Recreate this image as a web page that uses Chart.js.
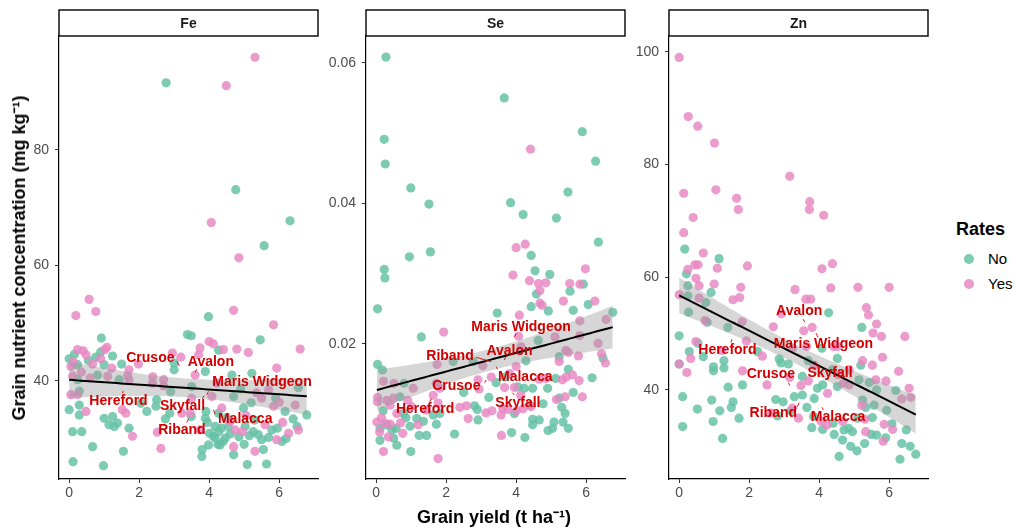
<!DOCTYPE html>
<html>
<head>
<meta charset="utf-8">
<script src="https://cdn.jsdelivr.net/npm/chart.js@4.4.1/dist/chart.umd.min.js"></script>
<style>
    body { margin: 0; background: #fff; font-family: "Liberation Sans", Arial, sans-serif; }
    #wrap { position: relative; width: 1016px; height: 531px; overflow: hidden; background: #fff; }
    #wrap canvas { position: absolute; top: 0; }
    .ytitle { position: absolute; left: 18px; top: 258px; transform: translate(-50%, -50%) rotate(-90deg);
        white-space: nowrap; font-weight: bold; font-size: 18px; color: #000; }
    .xtitle { position: absolute; left: 494px; top: 516px; transform: translate(-50%, -50%);
        white-space: nowrap; font-weight: bold; font-size: 18px; color: #000; }
    .leg-title { position: absolute; left: 956px; top: 219px; font-weight: bold; font-size: 18px; }
    .leg-item { position: absolute; left: 964px; font-size: 15px; height: 20px; line-height: 20px; }
    .leg-item i { display: inline-block; width: 10px; height: 10px; border-radius: 50%; vertical-align: middle;
        margin-right: 14px; position: relative; top: -1px; }
</style>
</head>
<body>
<div id="wrap">
    <canvas id="fe" width="330" height="500" style="left:0px"></canvas>
    <canvas id="se" width="330" height="500" style="left:307px"></canvas>
    <canvas id="zn" width="330" height="500" style="left:610px"></canvas>
    <div class="ytitle">Grain nutrient concentration (mg kg⁻¹)</div>
    <div class="xtitle">Grain yield (t ha⁻¹)</div>
    <div class="leg-title">Rates</div>
    <div class="leg-item" style="top:249px"><i style="background:rgba(102,194,165,0.85)"></i>No</div>
    <div class="leg-item" style="top:274px"><i style="background:rgba(231,138,195,0.85)"></i>Yes</div>
</div>
<script>
// --- DATA ---
const panelNames = ['Fe', 'Se', 'Zn'];
const xTicks = [0, 2, 4, 6];
const feTicks = [40, 60, 80];
const seTicks = [0.02, 0.04, 0.06];
const seTickLabels = ['0.02', '0.04', '0.06'];
const znTicks = [40, 60, 80, 100];

const feNo = [[0.92,47.4],[1.24,44.3],[0,43.8],[0.24,42.8],[0.76,44.1],[1.0,42.8],[1.5,42.9],[0.81,41.0],[1.43,40.2],
    [0.24,40.2],[0.29,38.2],[0,35.0],[0.29,35.8],[0.29,34.1],[1.0,33.5],[1.24,33.8],[1.14,32.4],[1.38,32.7],[1.29,32.1],
    [1.71,31.8],[0.1,31.2],[0.36,31.2],[0.67,28.6],[1.55,27.8],[0.11,26.0],[0.98,25.3],[2.22,34.7],[3.0,41.9],[2.48,35.6],
    [2.05,36.1],[3.38,48.0],[3.98,51.1],[3.49,47.8],[5.46,47.1],[4.27,45.3],[3.89,41.6],[4.65,41.0],[5.22,41.3],[3.5,39.0],
    [4.7,37.3],[4.98,35.3],[6.79,34.1],[6.17,34.7],[3.89,33.5],[4.55,32.1],[5.03,32.1],[5.26,31.2],[5.4,30.7],[5.79,31.5],
    [6.08,29.5],[6.51,32.1],[4.17,30.1],[4.31,28.9],[4.7,27.2],[5.55,28.1],[3.79,26.9],[5.09,25.5],[5.64,25.6],[3.98,28.9],
    [4.46,30.1],[4.17,32.1],[2.77,91.6],[4.76,73.1],[6.31,67.7],[5.57,63.4],[2.5,36.7],[2.9,38.1],[3.0,43.1],[2.87,34.4],
    [2.75,33.4],[3.49,33.8],[3.8,28.1],[4.01,30.9],[4.12,30.4],[4.27,31.2],[4.35,31.8],[3.91,34.7],[4.27,34.4],[5.9,37.0],
    [6.55,38.8],[4.9,38.6],[5.2,36.2],[4.4,29.5],[4.6,30.8],[4.85,30.3],[5.0,29.0],[5.15,30.5],[5.5,29.8],[5.7,30.2],
    [5.95,31.8],[6.2,30.0],[4.25,29.0],[3.95,32.8],[4.5,33.6],[5.3,33.2],[6.4,33.4],[0.15,44.6],[0.55,43.5],[0.9,45.0]];
const feYes = [[0.57,54.1],[0.19,51.3],[0.76,52.0],[0.24,45.4],[0.4,45.2],[0.48,44.5],[1.02,45.4],[1.08,45.8],[0.05,42.5],
    [0.67,42.9],[1.22,42.2],[1.71,41.9],[1.98,42.9],[1.1,40.8],[1.67,40.9],[0.1,40.8],[0.05,37.6],[0.24,37.6],[0.48,34.7],
    [1.62,34.4],[1.81,30.4],[2.62,28.3],[2.52,31.1],[2.38,39.6],[2.7,39.1],[2.95,44.8],[3.19,44.1],[1.71,40.2],[1.52,35.0],
    [4.7,52.2],[5.84,49.7],[4.0,46.8],[4.12,46.4],[3.74,45.7],[4.41,45.4],[4.79,45.5],[5.12,44.9],[6.6,45.5],[5.93,42.2],
    [3.7,44.5],[3.6,41.0],[4.22,39.6],[5.36,37.9],[5.5,37.0],[5.84,35.6],[6.46,35.8],[4.36,35.3],[3.46,34.4],[4.74,31.5],
    [5.93,29.8],[6.55,31.5],[6.27,30.9],[4.7,28.6],[5.31,27.8],[4.08,37.3],[5.31,96.0],[4.49,91.1],[4.06,67.4],[4.85,61.3],
    [2.7,40.2],[2.39,40.7],[3.22,34.4],[3.5,37.0],[3.74,31.5],[5.7,38.4],[6.0,36.3],[4.6,33.0],[4.95,31.2],[5.6,32.4],
    [6.1,32.8],[5.05,34.0],[0.12,43.3],[0.35,41.5],[0.6,40.5],[0.9,43.8]];

const seNo = [[0.28,0.0608],[3.66,0.0550],[0.23,0.0491],[5.89,0.0502],[0.26,0.0456],[6.27,0.0460],[0.99,0.0422],[5.48,0.0416],
    [1.51,0.0399],[3.84,0.0401],[4.2,0.0384],[5.15,0.0379],[6.35,0.0345],[0.95,0.0324],[1.55,0.0331],[4.43,0.0326],[0.23,0.0306],
    [0.25,0.0294],[4.54,0.0304],[4.96,0.0299],[5.92,0.0285],[4.58,0.0271],[5.54,0.0275],[0.04,0.0250],[4.43,0.0253],[6.06,0.0256],
    [3.46,0.0244],[4.92,0.0247],[5.63,0.0248],[6.76,0.0245],[1.29,0.0210],[4.63,0.0205],[0.04,0.0171],[0.18,0.0163],[2.2,0.0175],
    [2.77,0.0175],[6.48,0.0180],[5.49,0.0164],[6.17,0.0152],[0.8,0.0144],[0.68,0.0125],[0.78,0.0101],[1.82,0.0101],[1.16,0.0094],
    [0.11,0.0080],[0.57,0.0080],[0.97,0.0083],[0.11,0.0063],[0.59,0.0056],[0.99,0.0047],[1.23,0.0070],[1.44,0.0070],[1.72,0.0086],
    [2.24,0.0072],[2.5,0.0131],[2.81,0.0112],[2.91,0.0092],[2.89,0.0107],[3.22,0.0124],[3.95,0.0101],[3.87,0.0074],[4.25,0.0067],
    [4.38,0.0113],[4.47,0.0093],[4.66,0.0092],[4.47,0.0085],[4.77,0.0115],[4.91,0.0077],[5.08,0.0089],[5.04,0.0080],[5.23,0.0123],
    [5.3,0.0110],[5.4,0.0101],[5.34,0.0089],[5.49,0.0080],[5.63,0.0131],[5.13,0.0151],[4.9,0.0137],[4.05,0.0139],[4.23,0.0137],
    [4.47,0.0137],[3.68,0.0153],[3.43,0.0145],[4.28,0.0176],[5.23,0.0182],[1.63,0.0099],[0.3,0.0085],[0.45,0.0078],
    [0.85,0.0095],[1.35,0.0090],[0.2,0.0105],[0.5,0.0066]];
const seYes = [[4.41,0.0477],[4.0,0.0337],[4.26,0.0342],[5.98,0.0307],[3.91,0.0298],[4.38,0.0290],[4.64,0.0286],[4.85,0.0287],
    [4.68,0.0276],[5.53,0.0286],[5.82,0.0285],[4.68,0.0258],[4.74,0.0255],[5.35,0.0261],[6.25,0.0261],[4.09,0.0241],[6.57,0.0235],
    [5.82,0.0233],[1.93,0.0217],[4.07,0.0211],[5.11,0.0210],[5.82,0.0212],[6.34,0.0201],[1.74,0.0171],[3.05,0.0169],[5.23,0.0175],
    [5.49,0.0188],[5.78,0.0183],[6.44,0.0186],[6.55,0.0173],[5.8,0.0148],[0.21,0.0147],[0.51,0.0144],[1.06,0.0137],[0.04,0.0124],
    [0.04,0.0118],[0.4,0.0113],[0.59,0.0101],[1.01,0.0111],[1.44,0.0106],[0.02,0.0089],[0.26,0.0087],[0.4,0.0086],[0.35,0.0068],
    [0.76,0.0073],[0.21,0.0047],[1.77,0.0037],[2.39,0.0110],[2.58,0.0112],[2.63,0.0094],[2.94,0.0136],[3.14,0.0102],[3.31,0.0105],
    [3.57,0.0099],[3.62,0.0108],[3.76,0.0107],[4.01,0.0105],[4.2,0.0108],[3.58,0.0070],[4.43,0.0111],[5.15,0.0121],[5.4,0.0125],
    [5.89,0.0125],[5.32,0.0149],[5.43,0.0153],[5.61,0.0156],[4.66,0.0150],[4.85,0.0151],[4.13,0.0127],[3.29,0.0153],[2.91,0.0149],
    [3.67,0.0138],[3.95,0.0138],[4.0,0.0168],[3.81,0.0158],[4.14,0.0196],[5.42,0.0191],[1.72,0.0144],[1.82,0.0137],[1.63,0.0127],
    [0.49,0.0123],[1.77,0.0116],[0.15,0.0095],[0.7,0.0088],[1.2,0.0085],[0.3,0.0120],[0.9,0.0120],[0.1,0.0075]];

const znNo = [[0.16,65.0],[1.14,63.3],[0.21,60.6],[0.25,58.5],[0.91,57.3],[0.25,56.7],[0.27,53.8],[0.76,55.5],[4.27,53.7],
    [0.8,52.0],[5.22,51.1],[1.39,51.1],[0,49.6],[0.54,48.3],[4.08,47.4],[2.24,46.8],[0.29,46.8],[0.69,45.9],[1.28,45.2],
    [2.86,45.5],[2.91,44.8],[0,44.6],[5.19,44.4],[4.52,45.6],[3.69,45.2],[0.98,44.1],[0.98,43.4],[1.28,43.9],[1.4,40.5],
    [1.81,40.9],[3.95,40.3],[4.1,40.9],[4.52,40.6],[5.64,40.0],[6.19,39.9],[0.1,38.8],[0.93,38.2],[1.54,37.9],[1.49,36.9],
    [2.76,38.3],[2.97,37.9],[3.29,38.8],[3.52,39.1],[3.86,38.5],[0.52,36.6],[1.16,36.3],[3.19,36.3],[2.81,35.4],[1.71,35.0],
    [3.65,36.9],[3.84,35.3],[3.79,33.3],[4.1,33.0],[4.4,34.1],[4.43,32.1],[4.67,31.1],[4.71,32.9],[4.84,33.2],[4.95,32.6],
    [5.1,35.0],[5.52,35.1],[5.49,32.1],[5.64,32.0],[5.93,36.4],[6.08,34.0],[6.49,32.9],[6.36,30.5],[6.76,28.6],[6.31,27.7],
    [5.08,29.2],[4.57,28.2],[0.1,33.5],[0.97,34.4],[1.24,31.4],[5.33,36.9],[5.24,38.2],[5.57,37.3],[5.14,41.8],[5.43,41.3],
    [4.38,43.6],[3.12,44.6],[3.52,42.4],[5.9,31.5],[6.6,30.0],[5.3,30.5],[4.9,30.0]];
const znYes = [[0,99.0],[0.26,88.5],[0.53,86.8],[1.01,83.8],[3.16,77.9],[0.13,74.9],[1.05,75.5],[1.64,74.0],[1.69,72.0],
    [3.73,73.4],[3.72,72.0],[4.13,71.0],[0.4,70.6],[0.13,67.9],[0.69,64.3],[4.38,62.4],[1.95,62.0],[0.45,62.2],[0.54,62.2],
    [1.09,61.6],[4.08,61.5],[0.25,61.4],[0.48,59.8],[0,56.9],[0.57,58.5],[1.0,58.8],[1.76,58.2],[3.31,57.8],[4.33,58.1],
    [5.11,58.2],[6.0,58.2],[0.57,56.3],[1.54,56.0],[1.73,56.4],[3.62,56.1],[3.76,56.1],[5.35,54.6],[5.41,53.3],[2.92,53.5],
    [0.74,52.3],[1.8,52.1],[2.69,51.2],[3.8,51.1],[5.64,51.7],[3.56,50.5],[5.78,49.5],[6.45,49.5],[5.54,50.1],[0.48,48.6],
    [1.92,48.7],[1.22,47.0],[3.24,47.4],[3.64,47.7],[4.41,47.7],[4.52,47.7],[2.38,46.0],[0.33,45.6],[5.81,45.8],[5.24,45.2],
    [5.52,44.4],[0.22,43.1],[1.81,43.4],[3.16,42.2],[6.27,43.3],[5.91,41.6],[2.51,40.9],[3.48,40.8],[3.69,41.6],[4.24,39.4],
    [4.69,41.2],[4.86,40.9],[6.57,40.3],[6.62,38.7],[6.36,38.4],[3.24,36.8],[2.62,35.9],[3.41,35.0],[4.05,34.5],[4.22,33.8],
    [4.67,34.4],[5.31,34.8],[5.33,32.6],[5.83,30.9],[5.86,33.9],[5.22,37.3],[5.62,41.8],[4.54,42.7],[3.86,44.4],[4.86,43.6],
    [0,44.6],[6.1,33.0]];

// variety labels: [name, label x, label y, segment x1, y1, x2, y2] (data units)
const feLabels = [['Crusoe',2.32,43.93,3.08,43.34,3.15,42.6],['Avalon',4.05,43.24,3.65,42.03,3.6,41.44],
    ['Maris Widgeon',5.51,39.77,3.98,38.15,3.93,37.58],['Hereford',1.41,36.42,1.55,38.27,1.52,37.87],
    ['Skyfall',3.24,35.67,3.85,37.4,3.81,36.88],['Malacca',5.03,33.37,4.12,34.98,4.17,34.29],
    ['Riband',3.22,31.52,3.41,33.37,3.36,32.78]];
const seLabels = [['Maris Widgeon',4.14,0.02238,4.0,0.02152,3.95,0.02104],['Riband',2.11,0.01829,2.86,0.01811,3.29,0.01748],
    ['Avalon',3.81,0.01905,3.71,0.01819,3.66,0.01772],['Malacca',4.26,0.01535,3.43,0.01677,3.47,0.0164],
    ['Crusoe',2.29,0.01402,3.14,0.01488,3.10,0.01449],['Skyfall',4.05,0.01164,3.90,0.01307,3.95,0.01274],
    ['Hereford',1.40,0.01070,1.58,0.01227,1.53,0.01179]];
const znLabels = [['Avalon',3.43,53.91,3.54,52.56,3.59,52.02],['Hereford',1.38,47.10,1.51,49.0,1.48,48.4],
    ['Maris Widgeon',4.12,48.12,3.91,50.07,3.97,49.29],['Crusoe',2.62,42.84,3.12,41.30,3.16,40.76],
    ['Skyfall',4.31,42.97,3.88,45.03,3.93,44.44],['Riband',2.69,35.86,3.43,37.74,3.38,37.03],
    ['Malacca',4.54,35.15,4.08,36.93,4.12,36.45]];

// --- STYLE ---
const COL_NO = 'rgba(102,194,165,0.85)';
const COL_YES = 'rgba(231,138,195,0.85)';
const LABEL_RED = '#d30000';
Chart.defaults.font.family = '"Liberation Sans", Arial, sans-serif';

// linear fit with 95% confidence band (like geom_smooth(method = "lm"))
function linearFit(pts) {
    const n = pts.length;
    const mx = pts.reduce((s, p) => s + p[0], 0) / n;
    const my = pts.reduce((s, p) => s + p[1], 0) / n;
    let sxx = 0, sxy = 0;
    pts.forEach(p => { sxx += (p[0] - mx) ** 2; sxy += (p[0] - mx) * (p[1] - my); });
    const b = sxy / sxx, a = my - b * mx;
    let rss = 0;
    pts.forEach(p => { rss += (p[1] - a - b * p[0]) ** 2; });
    const s = Math.sqrt(rss / (n - 2));
    const xs = pts.map(p => p[0]);
    const lo = Math.min(...xs), hi = Math.max(...xs);
    const line = [], upper = [], lower = [];
    for (let i = 0; i <= 60; i++) {
        const x = lo + (hi - lo) * i / 60;
        const y = a + b * x;
        const se = s * Math.sqrt(1 / n + (x - mx) ** 2 / sxx);
        line.push({ x, y });
        upper.push({ x, y: y + 1.97 * se });
        lower.push({ x, y: y - 1.97 * se });
    }
    return { line, upper, lower };
}

const stripPlugin = {
    id: 'strip',
    afterDraw(chart, args, opts) {
        const { ctx, chartArea } = chart;
        ctx.save();
        ctx.fillStyle = '#fff';
        ctx.strokeStyle = '#000';
        ctx.lineWidth = 1.4;
        ctx.fillRect(chartArea.left, 10, chartArea.right - chartArea.left, 26);
        ctx.strokeRect(chartArea.left, 10, chartArea.right - chartArea.left, 26);
        ctx.fillStyle = '#1a1a1a';
        ctx.font = 'bold 14px "Liberation Sans", Arial, sans-serif';
        ctx.textAlign = 'center';
        ctx.textBaseline = 'middle';
        ctx.fillText(opts.title, (chartArea.left + chartArea.right) / 2, 24);
        ctx.restore();
    }
};

const varietyPlugin = {
    id: 'varieties',
    afterDatasetsDraw(chart, args, opts) {
        const { ctx, scales: { x, y } } = chart;
        ctx.save();
        ctx.strokeStyle = LABEL_RED;
        ctx.fillStyle = LABEL_RED;
        ctx.lineWidth = 0.9;
        ctx.font = 'bold 14px "Liberation Sans", Arial, sans-serif';
        ctx.textAlign = 'center';
        ctx.textBaseline = 'middle';
        opts.labels.forEach(l => {
            ctx.beginPath();
            ctx.moveTo(x.getPixelForValue(l[3]), y.getPixelForValue(l[4]));
            ctx.lineTo(x.getPixelForValue(l[5]), y.getPixelForValue(l[6]));
            ctx.stroke();
            ctx.fillText(l[0], x.getPixelForValue(l[1]), y.getPixelForValue(l[2]));
        });
        ctx.restore();
    }
};

function makePanel(id, title, no, yes, yMin, yMax, yTicks, yLabels, labels) {
    const fit = linearFit(no.concat(yes));
    const toXY = arr => arr.map(p => ({ x: p[0], y: p[1] }));
    new Chart(document.getElementById(id), {
        type: 'scatter',
        data: {
            datasets: [
                { type: 'line', data: fit.line, borderColor: '#000', borderWidth: 2, pointRadius: 0, fill: false, order: 0 },
                { type: 'line', data: fit.upper, borderWidth: 0, borderColor: 'rgba(0,0,0,0)', pointRadius: 0,
                  fill: '+1', backgroundColor: 'rgba(153,153,153,0.4)', order: 1 },
                { type: 'line', data: fit.lower, borderWidth: 0, borderColor: 'rgba(0,0,0,0)', pointRadius: 0, fill: false, order: 1 },
                { data: toXY(no), backgroundColor: COL_NO, pointRadius: 4.6, borderWidth: 0, order: 3 },
                { data: toXY(yes), backgroundColor: COL_YES, pointRadius: 4.6, borderWidth: 0, order: 2 }
            ]
        },
        options: {
            responsive: false,
            animation: false,
            layout: { padding: { top: 36, right: 12, left: 0, bottom: 0 } },
            plugins: {
                legend: { display: false },
                tooltip: { enabled: false },
                strip: { title },
                varieties: { labels }
            },
            scales: {
                x: {
                    type: 'linear', min: -0.29, max: 7.11,
                    afterBuildTicks: s => { s.ticks = xTicks.map(v => ({ value: v })); },
                    afterFit: s => { s.height = 21; },
                    grid: { drawOnChartArea: false, drawTicks: true, tickLength: 4, color: '#333' },
                    border: { display: true, color: '#000', width: 1.2 },
                    ticks: { color: '#4d4d4d', font: { size: 14 }, padding: 2, maxRotation: 0 }
                },
                y: {
                    type: 'linear', min: yMin, max: yMax,
                    afterBuildTicks: s => { s.ticks = yTicks.map(v => ({ value: v })); },
                    afterFit: s => { s.width = 59; },
                    grid: { drawOnChartArea: false, drawTicks: true, tickLength: 4, color: '#333' },
                    border: { display: true, color: '#000', width: 1.2 },
                    ticks: { color: '#4d4d4d', font: { size: 14 }, padding: 6,
                             callback: (v, i) => yLabels[i] }
                }
            }
        },
        plugins: [stripPlugin, varietyPlugin]
    });
}

makePanel('fe', panelNames[0], feNo, feYes, 23, 99.7, feTicks, feTicks.map(String), feLabels);
makePanel('se', panelNames[1], seNo, seYes, 0.0008, 0.0638, seTicks, seTickLabels, seLabels);
makePanel('zn', panelNames[2], znNo, znYes, 24.2, 102.8, znTicks, znTicks.map(String), znLabels);
</script>
</body>
</html>
